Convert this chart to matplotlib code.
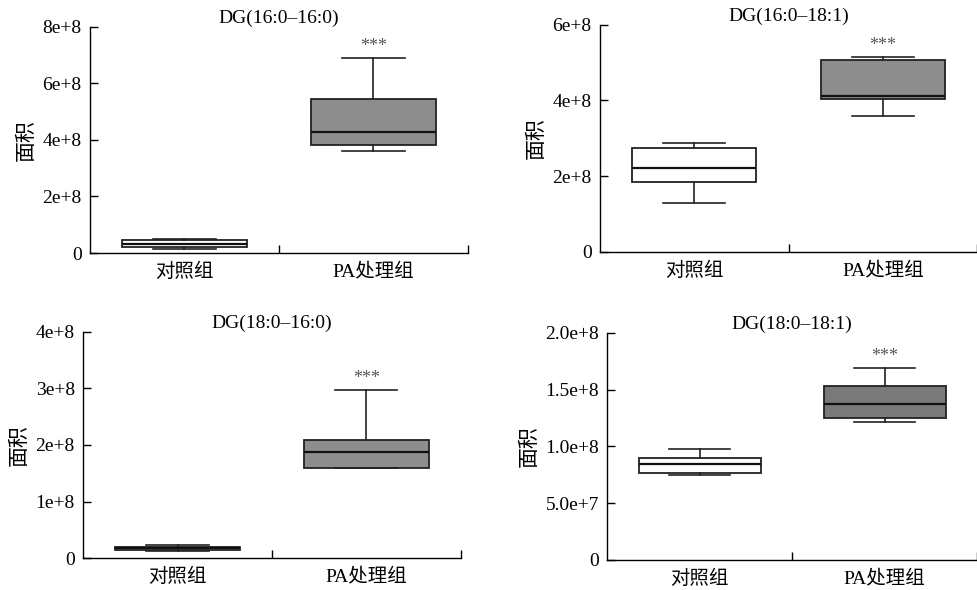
import matplotlib
matplotlib.use("Agg")
import matplotlib.pyplot as plt

plt.rcParams['font.family'] = ['Liberation Serif', 'Noto Sans CJK SC']
plt.rcParams['font.size'] = 14

groups = ["对照组", "PA处理组"]
titles = ["DG(16:0\u201316:0)", "DG(16:0\u201318:1)", "DG(18:0\u201316:0)", "DG(18:0\u201318:1)"]

# box stats per panel: [control, PA] -> (whislo, q1, med, q3, whishi)
dg_16_16 = [(0.15e8, 0.21e8, 0.33e8, 0.45e8, 0.49e8), (3.62e8, 3.80e8, 4.29e8, 5.45e8, 6.89e8)]
dg_16_18 = [(1.29e8, 1.85e8, 2.22e8, 2.74e8, 2.89e8), (3.59e8, 4.05e8, 4.11e8, 5.07e8, 5.16e8)]
dg_18_16 = [(0.12e8, 0.14e8, 0.175e8, 0.20e8, 0.23e8), (1.60e8, 1.60e8, 1.87e8, 2.08e8, 2.97e8)]
dg_18_18 = [(0.745e8, 0.762e8, 0.847e8, 0.897e8, 0.979e8), (1.214e8, 1.252e8, 1.370e8, 1.528e8, 1.689e8)]

yticks = [[0, 2e8, 4e8, 6e8, 8e8], [0, 2e8, 4e8, 6e8], [0, 1e8, 2e8, 3e8, 4e8], [0, 5e7, 1e8, 1.5e8, 2e8]]
ylabels = [["0", "2e+8", "4e+8", "6e+8", "8e+8"],
           ["0", "2e+8", "4e+8", "6e+8"],
           ["0", "1e+8", "2e+8", "3e+8", "4e+8"],
           ["0", "5.0e+7", "1.0e+8", "1.5e+8", "2.0e+8"]]
pa_colors = ["#8d8d8d", "#8d8d8d", "#8d8d8d", "#7a7a7a"]

# axes rectangles (fig fraction)
rects = [[0.092, 0.571, 0.3865, 0.384],
         [0.6135, 0.573, 0.3855, 0.385],
         [0.085, 0.054, 0.386, 0.384],
         [0.621, 0.051, 0.378, 0.385]]

fig = plt.figure(figsize=(9.78, 5.9), dpi=100)

for i, data in enumerate([dg_16_16, dg_16_18, dg_18_16, dg_18_18]):
    ax = fig.add_axes(rects[i])
    stats = []
    for s in data:
        stats.append(dict(whislo=s[0], q1=s[1], med=s[2], q3=s[3], whishi=s[4], fliers=[]))
    bp = ax.bxp(stats, positions=[0.5, 1.5], widths=0.66, patch_artist=True, showfliers=False,
                boxprops=dict(linewidth=1.3, edgecolor="#222222"),
                medianprops=dict(color="#111111", linewidth=1.6),
                whiskerprops=dict(color="#222222", linewidth=1.2),
                capprops=dict(color="#222222", linewidth=1.2),
                capwidths=0.33)
    bp['boxes'][0].set_facecolor("white")
    bp['boxes'][1].set_facecolor(pa_colors[i])

    ax.annotate("***", xy=(1.5, data[1][4]), xytext=(0, 2), textcoords="offset points",
                ha="center", va="bottom", fontsize=13, color="#555555")

    ax.set_xlim(0, 2)
    ax.set_ylim(0, yticks[i][-1])
    ax.set_yticks(yticks[i])
    ax.set_yticklabels(ylabels[i])
    ax.set_xticks([1, 2])
    ax.set_xticklabels(["", ""])
    ax.set_xticks([0.5, 1.5], minor=True)
    ax.set_xticklabels(groups, minor=True)
    ax.tick_params(axis="x", which="minor", length=0, pad=7)
    ax.tick_params(axis="both", which="major", direction="in", length=6, width=1, pad=6)
    for side in ["top", "right"]:
        ax.spines[side].set_visible(False)
    for side in ["left", "bottom"]:
        ax.spines[side].set_linewidth(1.0)
    ax.set_title(titles[i], fontsize=14, pad=2)
    ax.set_ylabel("面积", fontsize=15, labelpad=4)

fig.savefig("out.png", dpi=100)
